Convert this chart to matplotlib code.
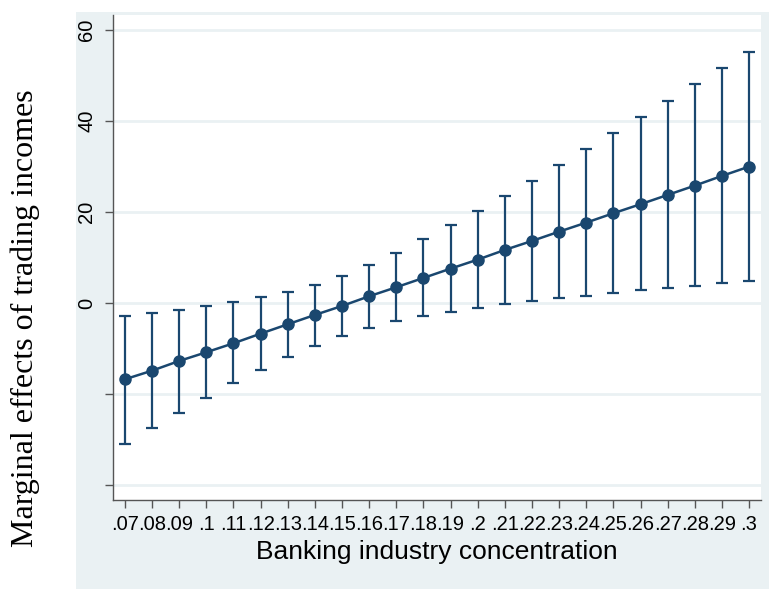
import matplotlib.pyplot as plt
from matplotlib.patches import Rectangle
import numpy as np

concentration = [.07, .08, .09, .10, .11, .12, .13, .14, .15, .16, .17, .18,
                 .19, .20, .21, .22, .23, .24, .25, .26, .27, .28, .29, .30]
tick_labels = [".07", ".08", ".09", ".1", ".11", ".12", ".13", ".14", ".15", ".16", ".17", ".18",
               ".19", ".2", ".21", ".22", ".23", ".24", ".25", ".26", ".27", ".28", ".29", ".3"]
effect = [-16.75, -14.86, -12.73, -10.82, -8.85, -6.74, -4.68, -2.63, -0.66, 1.47, 3.45, 5.49,
          7.53, 9.51, 11.64, 13.61, 15.65, 17.63, 19.69, 21.67, 23.71, 25.75, 27.88, 29.92]
upper = [-2.85, -2.26, -1.54, -0.66, 0.22, 1.3, 2.5, 3.95, 5.99, 8.34, 11.04, 13.98,
         17.06, 20.20, 23.49, 26.85, 30.36, 33.87, 37.39, 40.90, 44.35, 48.01, 51.53, 55.17]
lower = [-30.89, -27.44, -24.08, -20.86, -17.63, -14.64, -11.86, -9.37, -7.24, -5.49, -3.95, -2.85,
         -1.91, -1.10, -0.29, 0.37, 1.03, 1.54, 2.20, 2.79, 3.29, 3.80, 4.32, 4.90]
y_ticks = [-40, -20, 0, 20, 40, 60]
y_tick_labels = ["", "", "0", "20", "40", "60"]

navy = "#1a476f"
panel = "#eaf1f3"

fig = plt.figure(figsize=(7.69, 5.89), dpi=100)
fig.patch.set_facecolor("white")
# stata style outer panel
fig.patches.append(Rectangle((76 / 769, 0), 1, 1 - 12 / 589, transform=fig.transFigure,
                             facecolor=panel, edgecolor="none", zorder=-1))

ax = fig.add_axes([113 / 769, 1 - 500 / 589, 648 / 769, 485 / 589])
ax.set_facecolor("white")

x = np.array(concentration)
y = np.array(effect)
yerr = [y - np.array(lower), np.array(upper) - y]
ax.errorbar(x, y, yerr=yerr, fmt="none", ecolor=navy, elinewidth=1.6,
            capsize=4, capthick=1.6, zorder=3)
ax.plot(x, y, color=navy, linewidth=1.8, marker="o", markersize=8, zorder=4)

ax.set_xlim(.0656, .3044)
ax.set_ylim(-43.25, 63.2)
ax.set_xticks(concentration)
ax.set_xticklabels(tick_labels, fontsize=14.5, fontfamily="Liberation Sans")
ax.set_yticks(y_ticks)
ax.set_yticklabels(y_tick_labels, rotation=90, va="center", fontsize=14.5,
                   fontfamily="Liberation Sans")
ax.yaxis.grid(True, color=panel, linewidth=2)
ax.set_axisbelow(True)
ax.tick_params(axis="both", length=6, width=1, color="#555555", pad=5)
ax.tick_params(axis="y", pad=6)

for s in ["top", "right"]:
    ax.spines[s].set_visible(False)
for s in ["left", "bottom"]:
    ax.spines[s].set_color("#555555")
    ax.spines[s].set_linewidth(1)

ax.set_xlabel("Banking industry concentration", fontsize=19, fontfamily="Liberation Sans", labelpad=4)
fig.text(25 / 769, 1 - 318 / 589, "Marginal effects of trading incomes", rotation=90,
         ha="center", va="center", fontsize=23, fontfamily="Liberation Serif")

plt.savefig("out.png", dpi=100)
